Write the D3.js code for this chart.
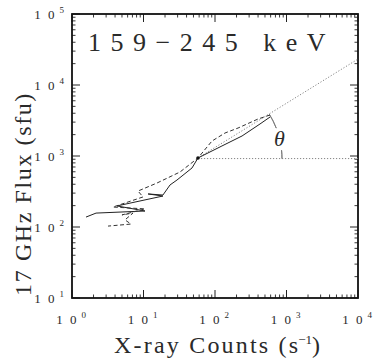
<!DOCTYPE html>
<html><head><meta charset="utf-8">
<script src="https://cdn.jsdelivr.net/npm/d3@7"></script>
<style>body{margin:0;background:#fff;} svg{display:block;}</style>
</head><body>
<svg id="c" width="376" height="359"></svg>
<script>
// ---- data ----
const xDomain = [1, 1e4];
const yDomain = [10, 1e5];
const xTickExps = [0, 1, 2, 3, 4];
const yTickExps = [1, 2, 3, 4, 5];
// solid trajectory (counts, flux)
const solidX = [1.57, 2.17, 10.5, 4.26, 18.7, 11.6, 18.7, 23.5, 29.4, 47.7, 57.8, 125, 239, 426, 588];
const solidY = [138, 157, 168, 198, 273, 292, 282, 391, 459, 678, 938, 1384, 1914, 2825, 3540];
// dashed trajectory
const dashX = [588, 399, 210, 138, 90.8, 57.8, 32.4, 15.5, 8.38, 9.84, 3.74, 10.5, 5.0, 7.13, 5.51, 6.68, 3.19];
const dashY = [3780, 3318, 2477, 2108, 1626, 938, 595, 417, 321, 265, 191, 180, 148, 157, 126, 110, 103];
// fit line and reference level
const fitX = [57.8, 1e4];
const fitY = [938, 23200];
const levelX = [57.8, 1e4];
const levelY = [920, 920];
const titleText = "159\u2212245 keV";
const xLabel = "X-ray Counts";
const yLabel = "17 GHz Flux (sfu)";

// ---- layout ----
const L = 72, R = 358, T = 14, B = 298;
const svg = d3.select("#c");
const x = d3.scaleLog().domain(xDomain).range([L, R]);
const y = d3.scaleLog().domain(yDomain).range([B, T]);
const serif = "'Liberation Serif','DejaVu Serif',serif";
const ink = "#2a2a2a";

function minors(dom) {
  const out = [];
  for (let e = Math.log10(dom[0]); e < Math.log10(dom[1]); e++)
    for (let k = 2; k <= 9; k++) out.push(k * Math.pow(10, e));
  return out;
}
const g = svg.append("g").attr("stroke", "#222").attr("fill", "none");
const majX = xTickExps.map(e => Math.pow(10, e));
const majY = yTickExps.map(e => Math.pow(10, e));
minors(xDomain).forEach(v => {
  g.append("line").attr("x1", x(v)).attr("x2", x(v)).attr("y1", B).attr("y2", B - 3.5).attr("stroke-width", 0.9);
  g.append("line").attr("x1", x(v)).attr("x2", x(v)).attr("y1", T).attr("y2", T + 3.5).attr("stroke-width", 0.9);
});
majX.forEach(v => {
  g.append("line").attr("x1", x(v)).attr("x2", x(v)).attr("y1", B).attr("y2", B - 8).attr("stroke-width", 1);
  g.append("line").attr("x1", x(v)).attr("x2", x(v)).attr("y1", T).attr("y2", T + 8).attr("stroke-width", 1);
});
minors(yDomain).forEach(v => {
  g.append("line").attr("y1", y(v)).attr("y2", y(v)).attr("x1", L).attr("x2", L + 3.5).attr("stroke-width", 0.9);
  g.append("line").attr("y1", y(v)).attr("y2", y(v)).attr("x1", R).attr("x2", R - 3.5).attr("stroke-width", 0.9);
});
majY.forEach(v => {
  g.append("line").attr("y1", y(v)).attr("y2", y(v)).attr("x1", L).attr("x2", L + 8).attr("stroke-width", 1);
  g.append("line").attr("y1", y(v)).attr("y2", y(v)).attr("x1", R).attr("x2", R - 8).attr("stroke-width", 1);
});
svg.append("rect").attr("x", L).attr("y", T).attr("width", R - L).attr("height", B - T)
  .attr("fill", "none").attr("stroke", "#111").attr("stroke-width", 1.8);

// tick labels
xTickExps.forEach(e => {
  const t = svg.append("text").attr("x", x(Math.pow(10, e)) - 1).attr("y", 324)
    .attr("text-anchor", "middle").attr("font-family", serif).attr("font-size", 13).attr("fill", ink);
  t.append("tspan").text("1 0").attr("letter-spacing", 2);
  t.append("tspan").text(e).attr("font-size", 9).attr("dx", 3).attr("dy", -6);
});
yTickExps.forEach(e => {
  const t = svg.append("text").attr("x", 64).attr("y", y(Math.pow(10, e)) + 5)
    .attr("text-anchor", "end").attr("font-family", serif).attr("font-size", 13).attr("fill", ink);
  t.append("tspan").text("1 0").attr("letter-spacing", 2);
  t.append("tspan").text(e).attr("font-size", 9).attr("dx", 3).attr("dy", -6);
});

// reference lines (dotted grey)
const line = d3.line().x(d => x(d[0])).y(d => y(d[1]));
svg.append("path").attr("d", line(d3.zip(fitX, fitY))).attr("fill", "none")
  .attr("stroke", "#777").attr("stroke-width", 0.9).attr("stroke-dasharray", "1.2,1.8");
svg.append("path").attr("d", line(d3.zip(levelX, levelY))).attr("fill", "none")
  .attr("stroke", "#777").attr("stroke-width", 0.9).attr("stroke-dasharray", "1.2,1.8");
// theta arc, split around the label
const cx = x(fitX[0]), cy = y(levelY[0]);
const ang = Math.atan2(y(fitY[0]) - y(fitY[1]), x(fitX[1]) - x(fitX[0]));
const rad = 84;
const a0 = Math.PI / 2 - ang, a1 = Math.PI / 2;
const arcSegs = [[a0, a0 + (a1 - a0) * 0.33], [a0 + (a1 - a0) * 0.82, a1]];
arcSegs.forEach(s => {
  const arc = d3.arc().innerRadius(rad).outerRadius(rad).startAngle(s[0]).endAngle(s[1]);
  svg.append("path").attr("d", arc()).attr("transform", `translate(${cx},${cy})`)
    .attr("fill", "none").attr("stroke", "#777").attr("stroke-width", 0.9);
});
svg.append("text").attr("x", cx + rad * 0.97).attr("y", cy - 13).attr("text-anchor", "middle")
  .attr("font-family", serif).attr("font-style", "italic").attr("font-size", 22).attr("fill", ink).text("\u03b8");

// data paths
svg.append("path").attr("d", line(d3.zip(solidX, solidY))).attr("fill", "none")
  .attr("stroke", "#222").attr("stroke-width", 1);
svg.append("path").attr("d", line(d3.zip(dashX, dashY))).attr("fill", "none")
  .attr("stroke", "#333").attr("stroke-width", 1).attr("stroke-dasharray", "4,2.5");
svg.append("circle").attr("cx", cx).attr("cy", y(solidY[10])).attr("r", 1.8).attr("fill", "#111");

// title
svg.append("text").attr("x", 88).attr("y", 51).attr("font-family", serif).attr("font-size", 26)
  .attr("letter-spacing", 9.5).attr("fill", ink).text(titleText);

// axis titles
const xt = svg.append("text").attr("x", 217).attr("y", 353).attr("text-anchor", "middle")
  .attr("font-family", serif).attr("font-size", 24).attr("fill", ink);
xt.append("tspan").text(xLabel + " (").attr("letter-spacing", 2.2);
xt.append("tspan").text("s");
xt.append("tspan").text("\u22121").attr("font-size", 13).attr("dy", -9);
xt.append("tspan").text(")").attr("dy", 9);

svg.append("text").attr("transform", "translate(31,194) rotate(-90)").attr("text-anchor", "middle")
  .attr("font-family", serif).attr("font-size", 24).attr("letter-spacing", 1.6).attr("fill", ink).text(yLabel);
</script>
</body></html>
